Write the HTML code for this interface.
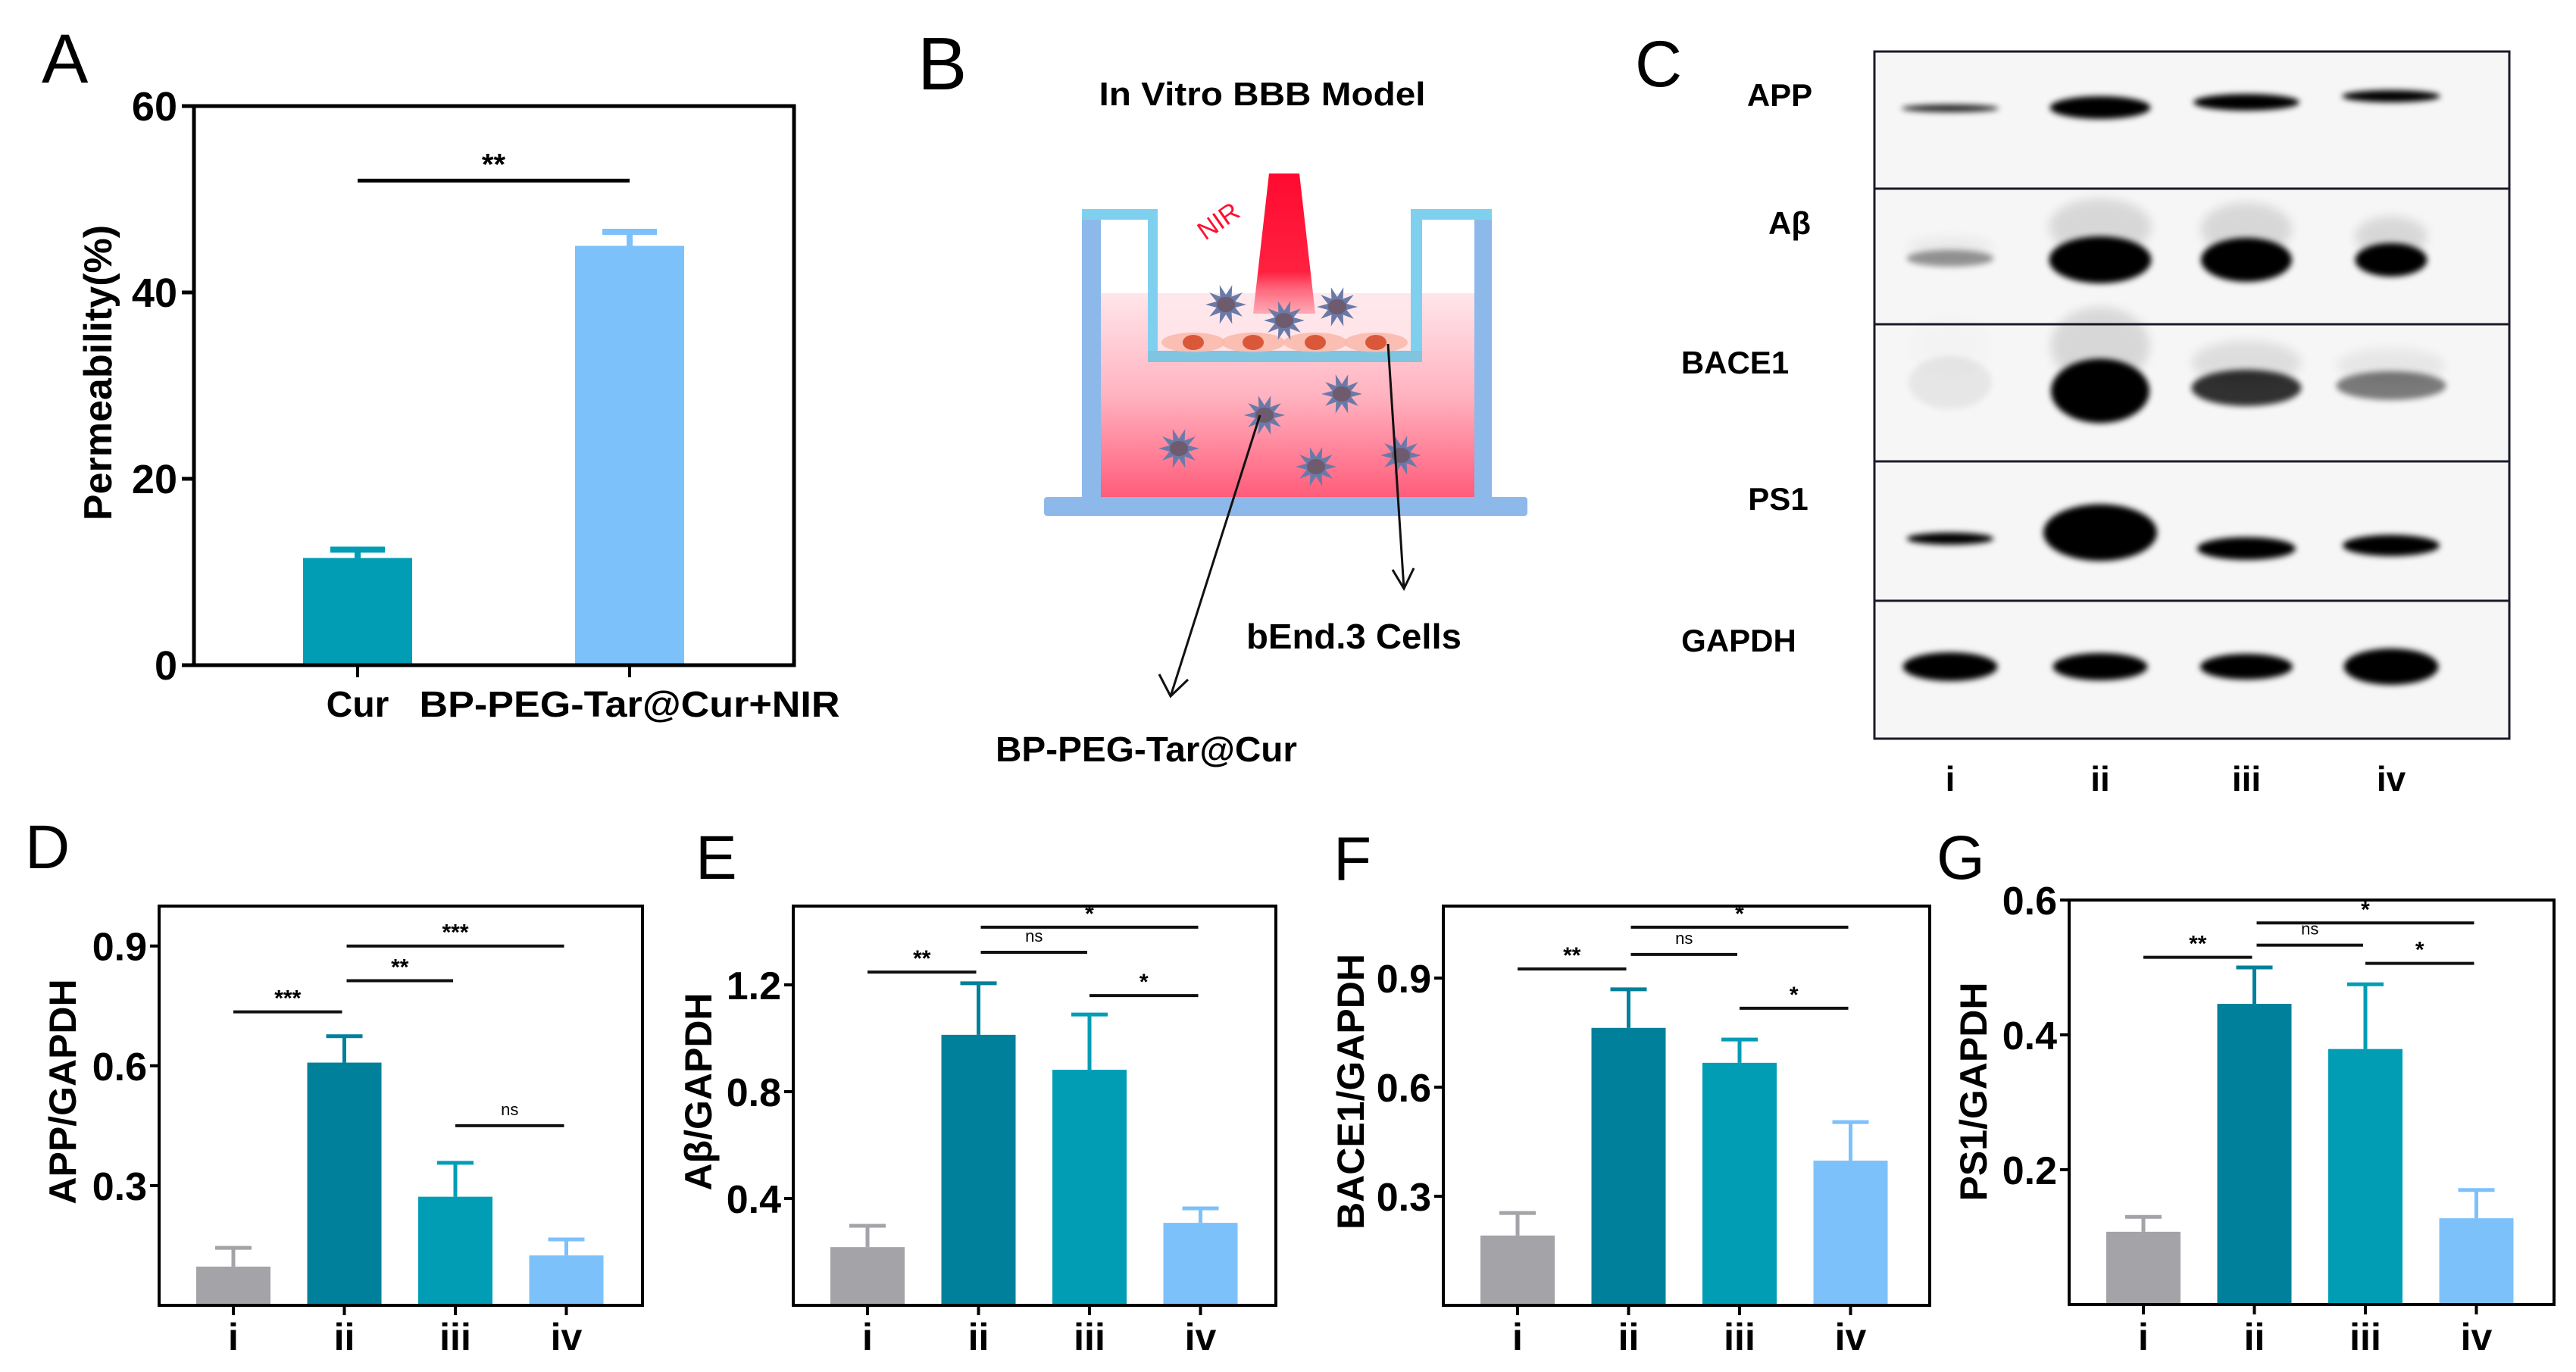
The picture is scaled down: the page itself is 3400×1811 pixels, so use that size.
<!DOCTYPE html>
<html><head><meta charset="utf-8"><style>
html,body{margin:0;padding:0;background:#fff}
svg{display:block}
text{font-family:"Liberation Sans",Arial,sans-serif}
</style></head><body>
<svg id="fig" xmlns="http://www.w3.org/2000/svg" width="3400" height="1811" viewBox="0 0 3400 1811">
<defs>
<linearGradient id="liq" x1="0" y1="0" x2="0" y2="1"><stop offset="0" stop-color="#ffe6ea"/><stop offset="0.5" stop-color="#ffb3c0"/><stop offset="1" stop-color="#ff5c7a"/></linearGradient>
<linearGradient id="beam" x1="0" y1="0" x2="0" y2="1"><stop offset="0" stop-color="#ff0a30"/><stop offset="0.7" stop-color="#ff2040"/><stop offset="1" stop-color="#ff8090" stop-opacity="0.6"/></linearGradient>
<filter id="blur6" x="-50%" y="-100%" width="200%" height="300%"><feGaussianBlur stdDeviation="7"/></filter>
<filter id="blur3" x="-50%" y="-100%" width="200%" height="300%"><feGaussianBlur stdDeviation="4"/></filter>
</defs>
<rect width="3400" height="1811" fill="#fff"/>
<g id="panelA"></g>
<g id="panelB">
  <text x="1211" y="118" font-size="98">B</text>
  <text x="1666" y="139" font-size="44" font-weight="bold" text-anchor="middle" textLength="431" lengthAdjust="spacingAndGlyphs">In Vitro BBB Model</text>
  <rect x="1453" y="387" width="493" height="269" fill="url(#liq)"/>
  <rect x="1528" y="387" width="334" height="76" fill="#ffe8ec" opacity="0.8"/>
  <polygon points="1675,229 1715,229 1736,414 1654,414" fill="url(#beam)"/>
  <text x="1609" y="303" font-size="34" fill="#ff1030" text-anchor="middle" transform="rotate(-35 1609 293)">NIR</text>
  <rect x="1378" y="656" width="638" height="25" rx="4" fill="#8db9ea"/>
  <rect x="1428" y="283" width="25" height="376" fill="#8db9ea"/>
  <rect x="1946" y="283" width="23" height="376" fill="#8db9ea"/>
  <rect x="1428" y="276" width="99" height="14" fill="#7fd0ee"/>
  <rect x="1862" y="276" width="107" height="14" fill="#7fd0ee"/>
  <rect x="1515" y="276" width="13" height="202" fill="#7fd0ee"/>
  <rect x="1862" y="276" width="15" height="202" fill="#7fd0ee"/>
  <rect x="1515" y="463" width="362" height="15" fill="#80c4e0"/>
  <g id="cells"></g>
  <g id="stars"></g>
  <g stroke="#111" stroke-width="3" fill="none">
    <line x1="1663" y1="548" x2="1545" y2="919"/><polyline points="1530,890 1545,919 1568,897"/>
    <line x1="1832" y1="454" x2="1853" y2="777"/><polyline points="1838,752 1853,777 1866,750"/>
  </g>
  <text x="1787" y="856" font-size="46" font-weight="bold" text-anchor="middle" textLength="284" lengthAdjust="spacingAndGlyphs">bEnd.3 Cells</text>
  <text x="1513" y="1005" font-size="46" font-weight="bold" text-anchor="middle" textLength="398" lengthAdjust="spacingAndGlyphs">BP-PEG-Tar@Cur</text>
</g>
<g id="panelC">
  <text x="2158" y="114" font-size="86">C</text>
</g>
<g id="bottom"></g>
</svg>
<script>
const NS="http://www.w3.org/2000/svg";
function mk(parent,tag,attrs,txt){const e=document.createElementNS(NS,tag);for(const k in attrs)e.setAttribute(k,attrs[k]);if(txt!==undefined)e.textContent=txt;parent.appendChild(e);return e;}

// ---------- Panel A data ----------
const aCategories=["Cur","BP-PEG-Tar@Cur+NIR"];
const aValues=[11.5,45.0];
const aErrors=[0.9,1.5];
const aTicks=[0,20,40,60];
const aSigLevel=52;
const aSigLabel="**";

// ---------- Bottom panels data ----------
const groups=["i","ii","iii","iv"];
const dValues=[0.097,0.608,0.272,0.125];
const dErrors=[0.047,0.066,0.085,0.040];
const dTicks=[0.3,0.6,0.9];
const dSigPairs=[[0,1],[1,2],[1,3],[2,3]];
const dSigLevels=[0.735,0.813,0.9,0.45];
const dSigLabels=["***","**","***","ns"];

const eValues=[0.218,1.013,0.882,0.309];
const eErrors=[0.080,0.193,0.207,0.054];
const eTicks=[0.4,0.8,1.2];
const eSigPairs=[[0,1],[1,2],[1,3],[2,3]];
const eSigLevels=[1.248,1.322,1.416,1.16];
const eSigLabels=["**","ns","*","*"];

const fValues=[0.192,0.763,0.667,0.398];
const fErrors=[0.062,0.106,0.064,0.106];
const fTicks=[0.3,0.6,0.9];
const fSigPairs=[[0,1],[1,2],[1,3],[2,3]];
const fSigLevels=[0.925,0.965,1.04,0.817];
const fSigLabels=["**","ns","*","*"];

const gValues=[0.108,0.446,0.379,0.128];
const gErrors=[0.022,0.054,0.096,0.042];
const gTicks=[0.2,0.4,0.6];
const gSigPairs=[[0,1],[1,2],[1,3],[2,3]];
const gSigLevels=[0.515,0.533,0.566,0.506];
const gSigLabels=["**","ns","*","*"];

const barColors=["#a3a3a8","#00809a","#009db5","#7dc1fb"];

// ---------- Panel A ----------
(function(){
  const g=document.getElementById("panelA");
  const L=256,R=1048,T=140,B=878,ymax=60;
  const y=v=>B-(v/ymax)*(B-T);
  const xc=[472,831];
  const lab=mk(g,"text",{x:55,y:109,"font-size":92});lab.textContent="A";
  
  
  const cols=["#009db5","#7dc1fb"];
  aValues.forEach((v,i)=>{
    const bar=mk(g,"rect",{x:xc[i]-72,y:y(v),width:144,height:B-y(v),fill:cols[i]});
    
    
    const eb=mk(g,"path",{d:`M${xc[i]} ${y(v)} V${y(v+aErrors[i])} M${xc[i]-36} ${y(v+aErrors[i])} H${xc[i]+36}`,stroke:cols[i],"stroke-width":8,fill:"none"});
    
    
    const tk=mk(g,"line",{x1:xc[i],y1:B,x2:xc[i],y2:B+16,stroke:"#000","stroke-width":4});
    
    
    const tl=mk(g,"text",{x:xc[i],y:946,"font-size":48,"font-weight":"bold","text-anchor":"middle"},aCategories[i]);
    if(i===1){tl.setAttribute("textLength","555");tl.setAttribute("lengthAdjust","spacingAndGlyphs");}
    
    
  });
  const ax=mk(g,"rect",{x:L,y:T,width:R-L,height:B-T,fill:"none",stroke:"#000","stroke-width":5});
  
  
  aTicks.forEach(t=>{
    const tk=mk(g,"line",{x1:L-16,y1:y(t),x2:L,y2:y(t),stroke:"#000","stroke-width":5});
    
    
    const tl=mk(g,"text",{x:L-22,y:y(t)+19,"font-size":54,"font-weight":"bold","text-anchor":"end"},String(t));
    
    
  });
  const yt=mk(g,"text",{x:0,y:0,"font-size":52,"font-weight":"bold","text-anchor":"middle",transform:"translate(147 492) rotate(-90)"},"Permeability(%)");
  
  
  const sl=mk(g,"line",{x1:xc[0],y1:y(aSigLevel),x2:xc[1],y2:y(aSigLevel),stroke:"#000","stroke-width":5});
  
  
  const st=mk(g,"text",{x:(xc[0]+xc[1])/2,y:y(aSigLevel)-8,"font-size":40,"font-weight":"bold","text-anchor":"middle"},aSigLabel);
  
  
})();

// ---------- Panel B decorations ----------
(function(){
  const cg=document.getElementById("cells");
  [1575,1654,1736,1816].forEach(cx=>{
    const c=mk(cg,"ellipse",{cx:cx,cy:452,rx:42,ry:13,fill:"#f9b8a8",opacity:0.85});
    
    
    mk(cg,"ellipse",{cx:cx,cy:452,rx:14,ry:10,fill:"#d9583a"});
  });
  const sg=document.getElementById("stars");
  [[1618,402],[1695,423],[1765,405],[1669,548],[1771,520],[1556,592],[1737,616],[1849,601]].forEach(p=>{
    let pts=[];for(let k=0;k<20;k++){const r=k%2?13:27;const a=k*Math.PI/10;pts.push((p[0]+r*Math.cos(a)).toFixed(1)+","+(p[1]+r*Math.sin(a)).toFixed(1));}
    const s=mk(sg,"polygon",{points:pts.join(" "),fill:"#6a7aa8"});
    
    
    mk(sg,"ellipse",{cx:p[0],cy:p[1],rx:12,ry:10,fill:"#6e5b6e"});
  });
})();

// ---------- Panel C western blot ----------
const blotRows=["APP","Aβ","BACE1","PS1","GAPDH"];
(function(){
  const g=document.getElementById("panelC");
  const rowY=[68,249,428,609,793,975];
  const labelPos=[[2349,125],[2362,294],[2290,478],[2347,658],[2295,845]];
  const lanes=[2574,2772,2965,3156];
  const bands=[
    [[143,129,10,0.85],[142,133,30,1],[135,140,22,1],[127,130,16,1]],
    [[341,115,22,0.4],[343,135,62,1],[343,120,58,1],[343,95,44,1]],
    [[505,110,70,0.06],[516,130,85,1],[512,145,48,0.8],[509,145,38,0.5]],
    [[711,115,16,1],[703,150,75,1],[724,130,30,1],[720,128,28,1]],
    [[880,125,38,1],[880,125,36,1],[880,122,34,1],[880,125,48,1]]
  ];
  blotRows.forEach((name,r)=>{
    const bx=mk(g,"rect",{x:2474,y:rowY[r],width:838,height:rowY[r+1]-rowY[r],fill:"#f6f6f6",stroke:"#1a1a2a","stroke-width":3});
    
    
    bands[r].forEach((b,i)=>{
      if(r===1||r===2){
        const h=mk(g,"ellipse",{cx:lanes[i],cy:b[0]-b[2]*0.7,rx:b[1]/2,ry:b[2]*0.6,fill:"#000",opacity:b[3]*0.12,filter:"url(#blur6)"});
        
        
      }
      const e=mk(g,"ellipse",{cx:lanes[i],cy:b[0],rx:b[1]/2,ry:b[2]/2,fill:"#000",opacity:b[3],filter:"url(#blur3)"});
      
      
    });
    const t=mk(g,"text",{x:labelPos[r][0],y:labelPos[r][1]+15,"font-size":42,"font-weight":"bold","text-anchor":"middle"},name);
    
    
  });
  groups.forEach((gname,i)=>{
    const t=mk(g,"text",{x:lanes[i],y:1044,"font-size":46,"font-weight":"bold","text-anchor":"middle"},gname);
    
    
  });
})();

// ---------- Bottom bar charts ----------
function barPanel(cfg){
  const root=document.getElementById("bottom");
  const g=mk(root,"g",{});
  
  
  const {L,R,T,B,ymax}=cfg;
  const y=v=>B-(v/ymax)*(B-T);
  const step=146.5;
  const xc=i=>L+98+i*step;
  const lab=mk(g,"text",{x:cfg.lx,y:cfg.ly,"font-size":82},cfg.letter);
  
  
  cfg.values.forEach((v,i)=>{
    const bar=mk(g,"rect",{x:xc(i)-49,y:y(v),width:98,height:B-y(v),fill:barColors[i]});
    
    
    const top=y(v+cfg.errors[i]);
    const eb=mk(g,"path",{d:`M${xc(i)} ${y(v)} V${top} M${xc(i)-24} ${top} H${xc(i)+24}`,stroke:barColors[i],"stroke-width":5,fill:"none"});
    
    
    const tk=mk(g,"line",{x1:xc(i),y1:B,x2:xc(i),y2:B+13,stroke:"#000","stroke-width":4});
    
    
    const tl=mk(g,"text",{x:xc(i),y:1782,"font-size":50,"font-weight":"bold","text-anchor":"middle"},groups[i]);
    
    
  });
  const ax=mk(g,"rect",{x:L,y:T,width:R-L,height:B-T,fill:"none",stroke:"#000","stroke-width":4});
  
  
  cfg.ticks.forEach(t=>{
    const tk=mk(g,"line",{x1:L-12,y1:y(t),x2:L,y2:y(t),stroke:"#000","stroke-width":4});
    
    
    const tl=mk(g,"text",{x:L-16,y:y(t)+19,"font-size":52,"font-weight":"bold","text-anchor":"end"},t.toFixed(1));
    
    
  });
  const yt=mk(g,"text",{x:0,y:0,"font-size":50,"font-weight":"bold","text-anchor":"middle",transform:`translate(${cfg.tx+18} 1441) rotate(-90)`},cfg.title);
  
  
  cfg.pairs.forEach((p,k)=>{
    const yy=y(cfg.levels[k]);
    const x1=xc(p[0])+ (p[0]===1?3:0), x2=xc(p[1])-3;
    const sl=mk(g,"line",{x1:x1,y1:yy,x2:x2,y2:yy,stroke:"#111","stroke-width":4});
    
    
    const isNs=cfg.labels[k]==="ns";
    const st=mk(g,"text",{x:(x1+x2)/2,y:yy-(isNs?14:8),"font-size":isNs?22:30,"font-weight":isNs?"normal":"bold","text-anchor":"middle"},cfg.labels[k]);
    
    
  });
}
barPanel({name:"panel-d-app-chart",letter:"D",lx:33,ly:1146,L:210,R:848,T:1196,B:1723,ymax:1.0,values:dValues,errors:dErrors,ticks:dTicks,pairs:dSigPairs,levels:dSigLevels,labels:dSigLabels,title:"APP/GAPDH",tx:82});
barPanel({name:"panel-e-abeta-chart",letter:"E",lx:918,ly:1160,L:1047,R:1684,T:1196,B:1723,ymax:1.495,values:eValues,errors:eErrors,ticks:eTicks,pairs:eSigPairs,levels:eSigLevels,labels:eSigLabels,title:"Aβ/GAPDH",tx:921});
barPanel({name:"panel-f-bace1-chart",letter:"F",lx:1760,ly:1162,L:1905,R:2547,T:1196,B:1723,ymax:1.098,values:fValues,errors:fErrors,ticks:fTicks,pairs:fSigPairs,levels:fSigLevels,labels:fSigLabels,title:"BACE1/GAPDH",tx:1782});
barPanel({name:"panel-g-ps1-chart",letter:"G",lx:2556,ly:1160,L:2731,R:3371,T:1188,B:1722,ymax:0.6,values:gValues,errors:gErrors,ticks:gTicks,pairs:gSigPairs,levels:gSigLevels,labels:gSigLabels,title:"PS1/GAPDH",tx:2604});
</script>
</body></html>
